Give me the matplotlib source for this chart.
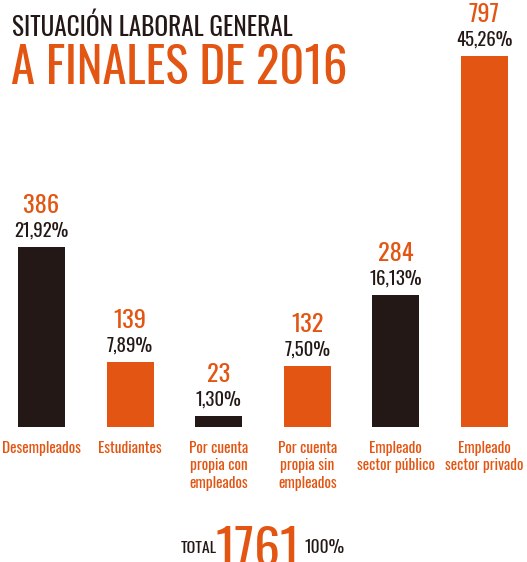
import matplotlib.pyplot as plt
from matplotlib import font_manager

categories = ['Desempleados', 'Estudiantes', 'Por cuenta\npropia con\nempleados',
              'Por cuenta\npropia sin\nempleados', 'Empleado\nsector público',
              'Empleado\nsector privado']
values = [386, 139, 23, 132, 284, 797]
percents = ['21,92%', '7,89%', '1,30%', '7,50%', '16,13%', '45,26%']
total = 1761

ORANGE = '#e35512'
DARK = '#231815'

# condensed font if there is one
names = set(f.name for f in font_manager.fontManager.ttflist)
font = 'DejaVu Sans'
for cand in ['Oswald', 'Roboto Condensed', 'Liberation Sans Narrow',
             'DejaVu Sans Condensed', 'Roboto']:
    if cand in names:
        font = cand
        break
plt.rcParams['font.family'] = [font, 'DejaVu Sans']

fig = plt.figure(figsize=(5.27, 5.62), dpi=100)
ax = fig.add_axes([0, 0.2402, 1, 0.6602])
ax.axis('off')

x = list(range(len(values)))
colors = [DARK if i % 2 == 0 else ORANGE for i in x]
ax.bar(x, values, width=0.53, color=colors)
ax.set_xlim(-0.468, 5.48)
ax.set_ylim(0, 797)

for i, v in enumerate(values):
    ax.annotate(percents[i], (i, v), xytext=(0, 7.5), textcoords='offset points',
                ha='center', va='baseline', fontsize=13.5, color=DARK)
    ax.annotate(str(v), (i, v), xytext=(0, 24.5), textcoords='offset points',
                ha='center', va='baseline', fontsize=17.5, color=ORANGE)
    ax.annotate(categories[i], (i, 0), xytext=(0, -10), textcoords='offset points',
                ha='center', va='top', fontsize=11, color=ORANGE,
                linespacing=1.2, annotation_clip=False)

fig.text(12 / 527, 1 - 36 / 562, 'SITUACIÓN LABORAL GENERAL', fontsize=18.2,
         color=DARK, va='baseline', ha='left')
fig.text(11 / 527, 1 - 84 / 562, 'A FINALES DE 2016', fontsize=35,
         color=ORANGE, va='baseline', ha='left')

fig.text(217 / 527, 1 - 553 / 562, 'TOTAL', fontsize=11.5, color=DARK,
         ha='right', va='baseline')
fig.text(258 / 527, 1 - 567 / 562, str(total), fontsize=37, color=ORANGE,
         ha='center', va='baseline')
fig.text(304 / 527, 1 - 553 / 562, '100%', fontsize=12.5, color=DARK,
         ha='left', va='baseline')

fig.savefig('out.png', dpi=100)
